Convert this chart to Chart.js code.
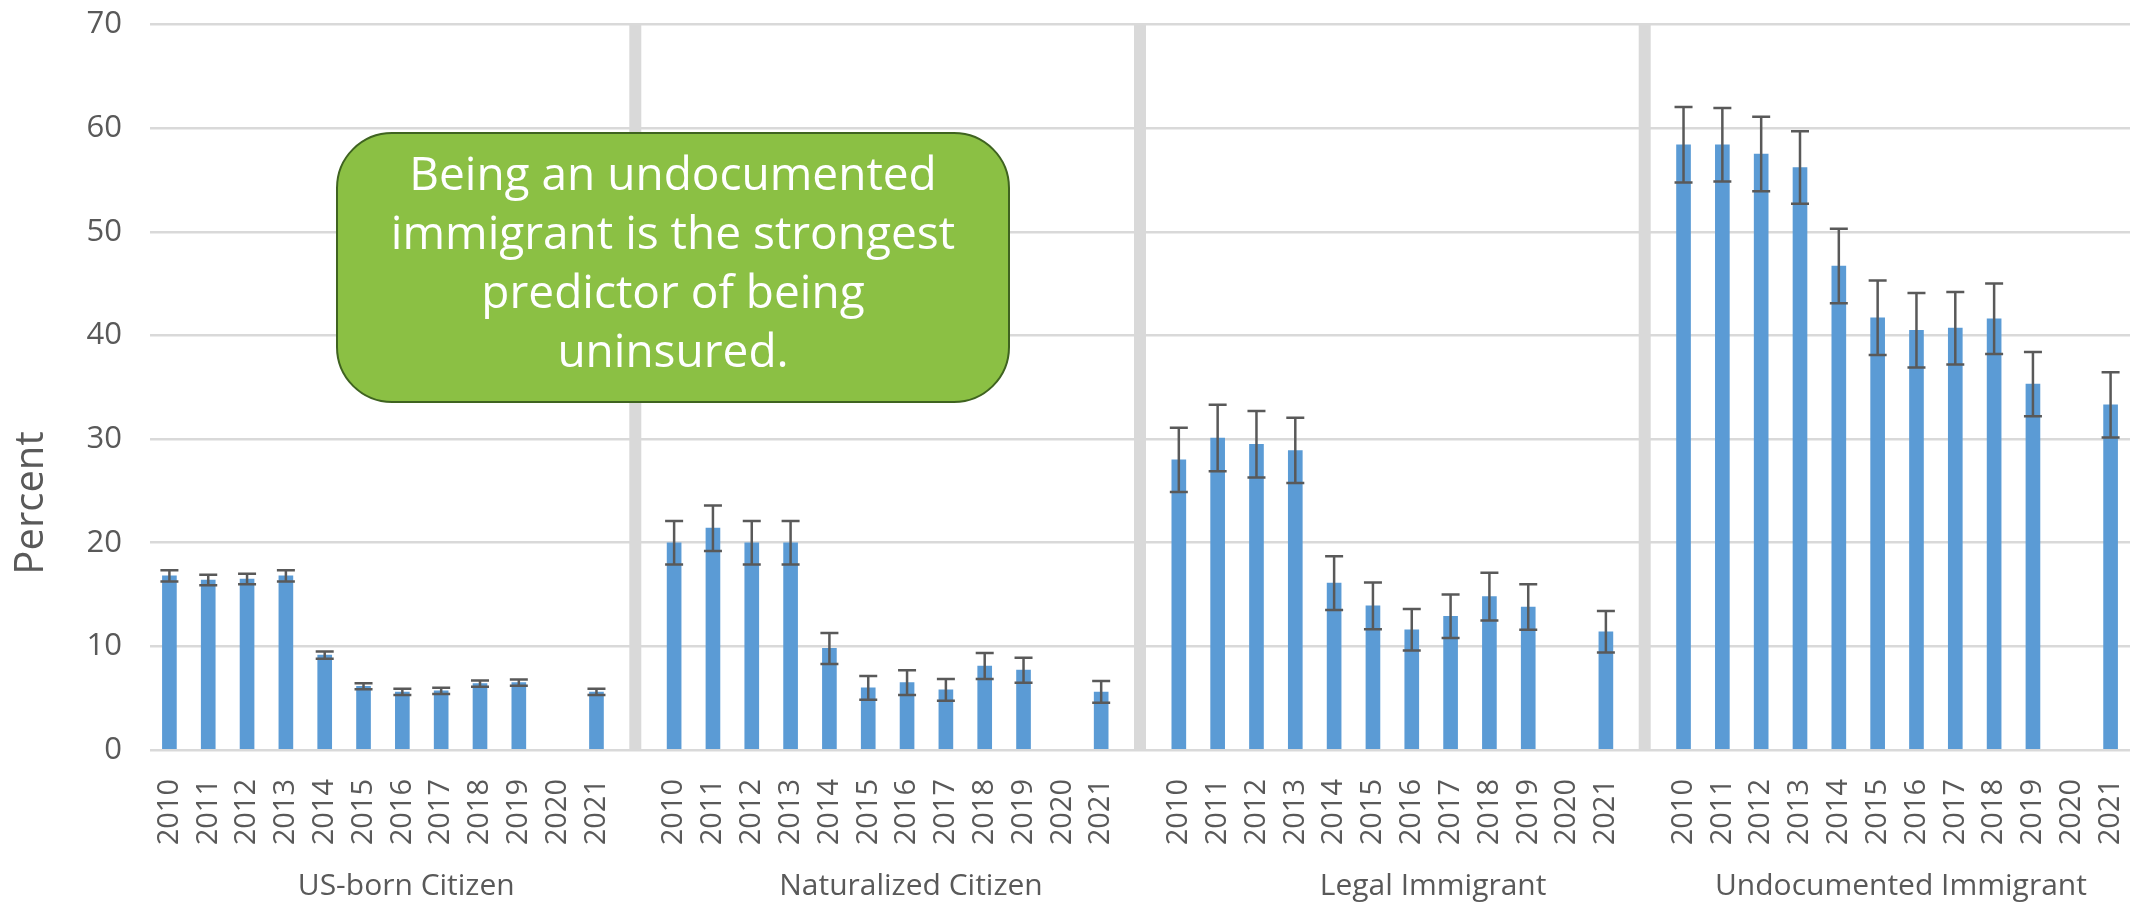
<!DOCTYPE html>
<html>
<head>
<meta charset="utf-8">
<script src="https://cdn.jsdelivr.net/npm/chart.js@4.4.1/dist/chart.umd.min.js"></script>
<style>
html,body{margin:0;padding:0;background:#fff;}
#wrap{position:relative;width:2134px;height:902px;}
#note{position:absolute;left:336px;top:132px;width:674px;height:271px;box-sizing:border-box;background:#8bc044;border:2.5px solid #3f6320;border-radius:56px;color:#fff;font-family:"Open Sans";font-size:46px;line-height:59px;text-align:center;padding-top:9px;white-space:nowrap;}
</style>
</head>
<body>
<div id="wrap">
  <canvas id="chart"></canvas>
  <div id="note">Being an undocumented<br>immigrant is the strongest<br>predictor of being<br>uninsured.</div>
</div>
<script>
// values (percent uninsured), 2020 has no estimate
const years = ['2010','2011','2012','2013','2014','2015','2016','2017','2018','2019','2020','2021'];
const groups = ['US-born Citizen','Naturalized Citizen','Legal Immigrant','Undocumented Immigrant'];

const usBorn        = [16.8,16.4,16.5,16.8,9.15,6.15,5.6,5.7,6.4,6.5,null,5.6];
const usBornErr     = [0.55,0.5,0.5,0.55,0.35,0.3,0.3,0.3,0.3,0.3,null,0.3];
const naturalized   = [20.0,21.4,20.0,20.0,9.8,6.0,6.5,5.8,8.1,7.7,null,5.6];
const naturalizedErr= [2.1,2.2,2.1,2.1,1.5,1.15,1.2,1.05,1.25,1.2,null,1.05];
const legal         = [28.0,30.1,29.5,28.9,16.1,13.9,11.6,12.9,14.8,13.8,null,11.4];
const legalErr      = [3.1,3.2,3.2,3.15,2.6,2.25,2.0,2.1,2.3,2.2,null,2.0];
const undocumented  = [58.4,58.4,57.5,56.2,46.7,41.7,40.5,40.7,41.6,35.3,null,33.3];
const undocumentedErr=[3.65,3.55,3.6,3.5,3.6,3.6,3.6,3.5,3.4,3.1,null,3.15];

const yTicks = [0,10,20,30,40,50,60,70];
const yTitle = 'Percent';

const series = [usBorn, naturalized, legal, undocumented];
const errs = [usBornErr, naturalizedErr, legalErr, undocumentedErr];
// where each group name sits, in slots from the group's first year
const groupLabelOffset = [6.1, 6.1, 6.55, 5.6];

// one flat category axis, with an empty slot between groups for the divider
let labels=[], values=[], errors=[], sepIdx=[], groupCenters=[];
series.forEach((s,g)=>{
    let start=labels.length;
    years.forEach((yr,i)=>{ labels.push(yr); values.push(s[i]); errors.push(errs[g][i]); });
    if(g<series.length-1){ sepIdx.push(labels.length); labels.push(''); values.push(null); errors.push(null); }
    groupCenters.push(start + groupLabelOffset[g]);
});

const grey='#595959';
const font='"Open Sans"';

const separators={
    id:'separators',
    beforeDatasetsDraw(chart){
        const x=chart.scales.x, y=chart.scales.y, ctx=chart.ctx;
        ctx.save();
        ctx.strokeStyle='#d9d9d9';
        ctx.lineWidth=12;
        sepIdx.forEach(i=>{
            let px=x.getPixelForValue(i);
            ctx.beginPath();
            ctx.moveTo(px,y.getPixelForValue(yTicks[yTicks.length-1]));
            ctx.lineTo(px,y.getPixelForValue(0));
            ctx.stroke();
        });
        ctx.restore();
    }
};

const errorBars={
    id:'errorBars',
    afterDatasetsDraw(chart){
        const y=chart.scales.y, ctx=chart.ctx;
        const meta=chart.getDatasetMeta(0);
        ctx.save();
        ctx.strokeStyle=grey;
        ctx.lineWidth=2.5;
        meta.data.forEach((bar,i)=>{
            if(values[i]==null||errors[i]==null) return;
            let top=y.getPixelForValue(values[i]+errors[i]);
            let bot=y.getPixelForValue(values[i]-errors[i]);
            ctx.beginPath();
            ctx.moveTo(bar.x,top); ctx.lineTo(bar.x,bot);
            ctx.moveTo(bar.x-9,top); ctx.lineTo(bar.x+9,top);
            ctx.moveTo(bar.x-9,bot); ctx.lineTo(bar.x+9,bot);
            ctx.stroke();
        });
        ctx.restore();
    }
};

// group names under the year ticks, and the y title (sits a bit below the middle in the original)
const outerLabels={
    id:'outerLabels',
    afterDraw(chart){
        const x=chart.scales.x, ctx=chart.ctx;
        ctx.save();
        ctx.fillStyle=grey;
        ctx.font='30px '+font;
        ctx.textAlign='center';
        ctx.textBaseline='alphabetic';
        groups.forEach((g,i)=>{
            ctx.fillText(g, x.getPixelForValue(groupCenters[i]), 895);
        });
        ctx.font='40px '+font;
        ctx.textBaseline='middle';
        ctx.translate(32,503);
        ctx.rotate(-Math.PI/2);
        ctx.fillText(yTitle,0,0);
        ctx.restore();
    }
};

new Chart(document.getElementById('chart'),{
    type:'bar',
    data:{
        labels:labels,
        datasets:[{
            label:yTitle,
            data:values,
            backgroundColor:'#5b9bd5',
            barThickness:14
        }]
    },
    options:{
        responsive:true,
        maintainAspectRatio:false,
        devicePixelRatio:1,
        animation:false,
        layout:{padding:{top:24.5,right:4,left:0,bottom:32}},
        plugins:{legend:{display:false},tooltip:{enabled:false}},
        scales:{
            x:{
                type:'category',
                offset:true,
                grid:{display:false},
                border:{display:false},
                afterFit(s){ s.height=120; s.paddingLeft=0; s.paddingRight=0; },
                ticks:{autoSkip:false,minRotation:90,maxRotation:90,padding:21,color:grey,font:{family:font,size:29}}
            },
            y:{
                min:0,
                max:yTicks[yTicks.length-1],
                afterBuildTicks(s){ s.ticks=yTicks.map(v=>({value:v})); },
                afterFit(s){ s.width=150; s.paddingTop=0; s.paddingBottom=0; },
                grid:{color:'#d9d9d9',lineWidth:2.5,drawTicks:false},
                border:{display:false},
                ticks:{padding:28,color:grey,font:{family:font,size:31}}
            }
        }
    },
    plugins:[separators,errorBars,outerLabels]
});
</script>
</body>
</html>
